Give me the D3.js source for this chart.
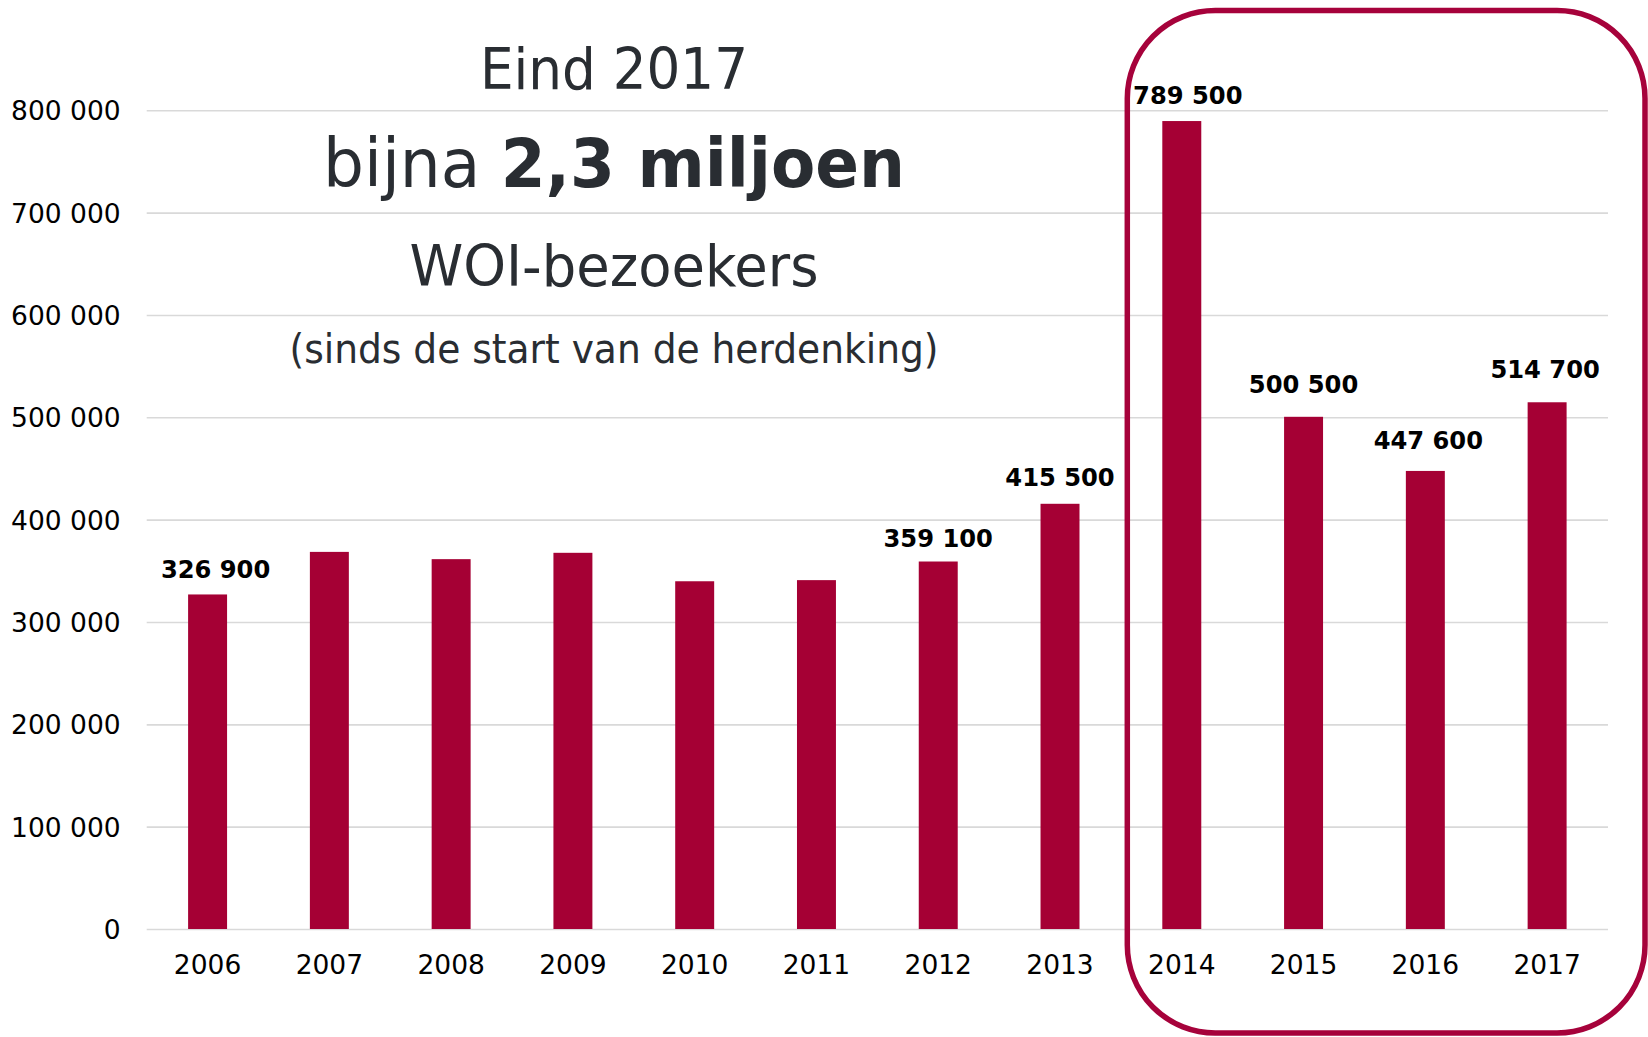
<!DOCTYPE html>
<html>
<head>
<meta charset="utf-8">
<script src="https://d3js.org/d3.v7.min.js"></script>
<style>
  body { margin: 0; background: #fff; }
  svg { display: block; }
</style>
</head>
<body>
<div id="chart"></div>
<script>
const w = 1648,
      h = 1037;
const barColor = '#a50034';

// bezoekers per jaar
const years = ['2006', '2007', '2008', '2009', '2010', '2011', '2012', '2013', '2014', '2015', '2016', '2017'];
const visitors = [326900, 368500, 361400, 367600, 339800, 340900, 359100, 415500, 789500, 500500, 447600, 514700];
const labelled = [true, false, false, false, false, false, true, true, true, true, true, true];
const yTicks = [0, 100000, 200000, 300000, 400000, 500000, 600000, 700000, 800000];

const fmt = v => d3.format(',')(v).replace(/,/g, ' ');

const svg = d3.select('#chart').append('svg')
    .attr('width', w)
    .attr('height', h);

const x = d3.scaleBand()
    .domain(years)
    .range([146.7, 1608])
    .paddingInner(0.68)
    .paddingOuter(0.34);

const y = d3.scaleLinear()
    .domain([0, 800000])
    .range([929, 110.3]);

// gridlines + y labels
const yAxis = d3.axisLeft(y)
    .tickValues(yTicks)
    .tickSize(-(1608 - 146.7))
    .tickPadding(26)
    .tickFormat(fmt);

const gy = svg.append('g')
    .attr('transform', 'translate(146.7,0)')
    .call(yAxis);
gy.select('.domain').remove();
gy.selectAll('.tick line').attr('stroke', '#d9d9d9').attr('stroke-width', 1.6);
gy.selectAll('.tick text')
    .attr('font-family', 'Verdana, "DejaVu Sans", sans-serif')
    .attr('font-size', 26.5)
    .attr('fill', '#000')
    .attr('dy', null)
    .attr('dominant-baseline', 'central');

// bars
svg.append('g').selectAll('rect')
    .data(years)
    .enter()
    .append('rect')
    .attr('x', d => x(d))
    .attr('y', (d, i) => y(visitors[i]))
    .attr('width', x.bandwidth())
    .attr('height', (d, i) => y(0) - y(visitors[i]))
    .attr('fill', barColor);

// value labels (handmatig verschoven zoals in het origineel)
const nudge = {
    '2006': [8, 2], '2012': [0, 3], '2013': [0, 0], '2014': [6, 1],
    '2015': [0, -6], '2016': [3, -4], '2017': [-2, -6]
};
svg.append('g').selectAll('text')
    .data(years.filter((d, i) => labelled[i]))
    .enter()
    .append('text')
    .attr('x', d => x(d) + x.bandwidth() / 2 + nudge[d][0])
    .attr('y', d => y(visitors[years.indexOf(d)]) - 18 + nudge[d][1])
    .attr('text-anchor', 'middle')
    .attr('font-family', 'Verdana, "DejaVu Sans", sans-serif')
    .attr('font-weight', 'bold')
    .attr('font-size', 24.2)
    .attr('fill', '#000')
    .text(d => fmt(visitors[years.indexOf(d)]));

// x axis labels
const xAxis = d3.axisBottom(x).tickSize(0).tickPadding(26);
const gx = svg.append('g')
    .attr('transform', `translate(0,${y(0)})`)
    .call(xAxis);
gx.select('.domain').remove();
gx.selectAll('.tick text')
    .attr('font-family', 'Verdana, "DejaVu Sans", sans-serif')
    .attr('font-size', 26.5)
    .attr('fill', '#000');

// titel
const titleFont = '"DejaVu Sans Condensed", "DejaVu Sans", sans-serif';
const tc = 614;
const title = svg.append('g')
    .attr('font-family', titleFont)
    .attr('fill', '#292d32')
    .attr('text-anchor', 'middle');

title.append('text')
    .attr('x', tc).attr('y', 89)
    .attr('font-size', 57)
    .attr('textLength', 268)
    .attr('lengthAdjust', 'spacingAndGlyphs')
    .text('Eind 2017');

const t2 = title.append('text')
    .attr('x', tc).attr('y', 187)
    .attr('font-size', 67)
    .attr('textLength', 582)
    .attr('lengthAdjust', 'spacingAndGlyphs');
t2.append('tspan').text('bijna ');
t2.append('tspan').attr('font-weight', 'bold').text('2,3 miljoen');

title.append('text')
    .attr('x', tc).attr('y', 286)
    .attr('font-size', 57)
    .attr('textLength', 409)
    .attr('lengthAdjust', 'spacingAndGlyphs')
    .text('WOI-bezoekers');

title.append('text')
    .attr('x', tc).attr('y', 363)
    .attr('font-size', 40)
    .attr('textLength', 649)
    .attr('lengthAdjust', 'spacingAndGlyphs')
    .text('(sinds de start van de herdenking)');

// kader rond 2014-2017
const frameLeft = x(years[8]) - 35;
svg.append('rect')
    .attr('x', frameLeft)
    .attr('y', 10.5)
    .attr('width', 1645 - frameLeft)
    .attr('height', 1033 - 10.5)
    .attr('rx', 88)
    .attr('ry', 88)
    .attr('fill', 'none')
    .attr('stroke', '#a6023b')
    .attr('stroke-width', 5.5);
</script>
</body>
</html>
